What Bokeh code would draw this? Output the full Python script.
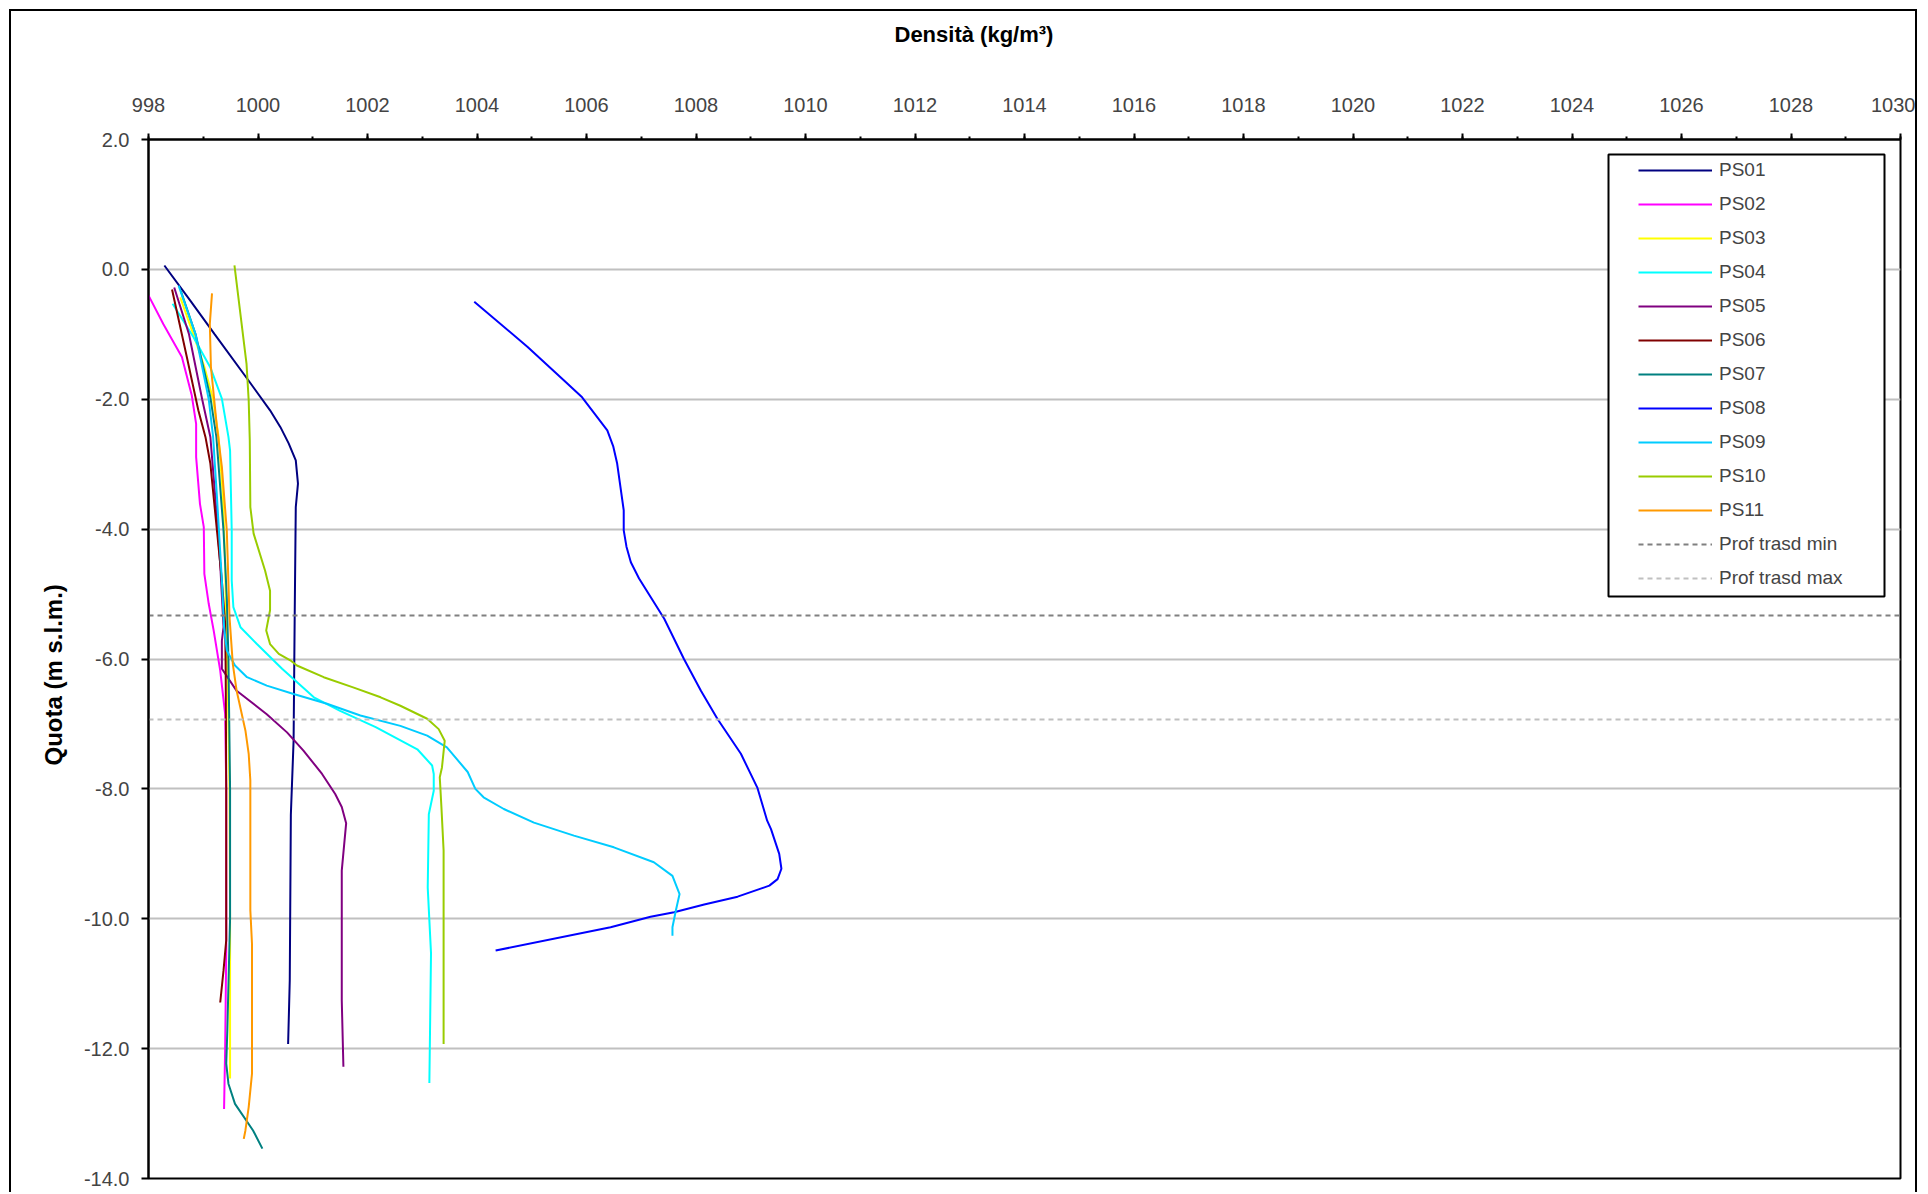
from bokeh.plotting import figure
from bokeh.models import (Range1d, FixedTicker, NumeralTickFormatter, Legend,
                          LegendItem, BoxAnnotation, Title)
from bokeh.embed import file_html
from bokeh.resources import INLINE

# ---------------- data ----------------
X_MIN, X_MAX = 998, 1030
Y_MIN, Y_MAX = -14, 2
X_TICKS = list(range(998, 1031, 2))
X_MINOR = list(range(998, 1031, 1))
Y_TICKS = list(range(-14, 3, 2))

series_names = ["PS01", "PS02", "PS03", "PS04", "PS05", "PS06",
                "PS07", "PS08", "PS09", "PS10", "PS11"]

PS01_depth = [0.06, -0.50, -1.00, -1.68, -2.17, -2.43, -2.68, -2.94, -3.30, -3.66,
              -5.36, -7.26, -8.40, -10.95, -11.93]
PS01_dens = [998.29, 998.78, 999.21, 999.80, 1000.22, 1000.41, 1000.56, 1000.69, 1000.73,
             1000.69, 1000.67, 1000.65, 1000.60, 1000.58, 1000.55]

PS02_depth = [-0.40, -0.84, -1.35, -1.94, -2.38, -2.89, -3.61, -3.97, -4.69, -5.15,
              -5.56, -6.18, -6.85, -8.00, -10.50, -12.00, -12.93]
PS02_dens = [998.00, 998.27, 998.61, 998.79, 998.87, 998.87, 998.94, 999.01, 999.02,
             999.10, 999.19, 999.31, 999.40, 999.42, 999.42, 999.40, 999.38]

PS03_depth = [-0.43, -1.00, -1.50, -2.00, -2.58, -3.50, -4.50, -5.50, -6.50, -8.00,
              -10.00, -12.46]
PS03_dens = [998.58, 998.82, 999.02, 999.18, 999.28, 999.36, 999.40, 999.42, 999.45,
             999.48, 999.49, 999.49]

PS04_depth = [-0.53, -1.04, -1.51, -1.99, -2.58, -2.79, -4.02, -4.79, -5.20, -5.51,
              -5.77, -6.15, -6.59, -6.80, -7.05, -7.39, -7.64, -7.77, -8.03, -8.39,
              -9.52, -10.53, -12.53]
PS04_dens = [998.44, 998.82, 999.13, 999.34, 999.46, 999.49, 999.52, 999.52, 999.55,
             999.68, 999.98, 1000.44, 1001.02, 1001.50, 1002.15, 1002.91, 1003.18,
             1003.21, 1003.21, 1003.12, 1003.10, 1003.16, 1003.13]

PS05_depth = [-0.28, -1.00, -2.00, -2.58, -3.51, -4.54, -5.51, -5.72, -6.15, -6.49,
              -6.85, -7.13, -7.41, -7.77, -8.08, -8.28, -8.53, -8.80, -9.26, -11.26,
              -12.28]
PS05_dens = [998.47, 998.74, 998.98, 999.13, 999.22, 999.31, 999.37, 999.34, 999.34,
             999.61, 1000.16, 1000.53, 1000.83, 1001.17, 1001.41, 1001.53, 1001.61,
             1001.58, 1001.53, 1001.53, 1001.56]

PS06_depth = [-0.31, -1.35, -2.17, -2.58, -2.99, -4.02, -4.79, -5.46, -6.18, -8.00,
              -10.33, -10.80, -11.29]
PS06_dens = [998.43, 998.70, 998.91, 999.04, 999.13, 999.25, 999.34, 999.40, 999.41,
             999.42, 999.42, 999.37, 999.31]

PS07_depth = [-0.33, -1.00, -1.97, -2.58, -4.02, -5.05, -6.00, -8.00, -10.00, -11.72,
              -12.23, -12.54, -12.85, -13.26, -13.54]
PS07_dens = [998.59, 998.86, 999.13, 999.24, 999.37, 999.43, 999.46, 999.49, 999.49,
             999.44, 999.42, 999.46, 999.58, 999.91, 1000.08]

PS08_depth = [-0.50, -1.19, -1.71, -1.97, -2.48, -2.73, -2.99, -3.71, -4.02, -4.27,
              -4.51, -4.76, -5.38, -6.00, -6.49, -6.92, -7.46, -7.98, -8.49, -8.62,
              -9.00, -9.23, -9.39, -9.49, -9.66, -9.78, -9.90, -9.97, -10.13, -10.49]
PS08_dens = [1003.95, 1004.92, 1005.59, 1005.92, 1006.38, 1006.49, 1006.56, 1006.68,
             1006.68, 1006.73, 1006.81, 1006.96, 1007.42, 1007.78, 1008.09, 1008.39,
             1008.82, 1009.12, 1009.30, 1009.37, 1009.52, 1009.56, 1009.49, 1009.34,
             1008.76, 1008.15, 1007.60, 1007.17, 1006.44, 1004.34]

PS09_depth = [-0.25, -1.00, -2.00, -2.58, -3.50, -4.79, -5.50, -5.87, -6.10, -6.28,
              -6.41, -6.54, -6.69, -6.87, -7.03, -7.18, -7.36, -7.74, -8.00, -8.13,
              -8.31, -8.52, -8.72, -8.90, -9.13, -9.34, -9.62, -9.88, -10.13, -10.26]
PS09_dens = [998.55, 998.86, 999.10, 999.18, 999.25, 999.34, 999.38, 999.43, 999.58,
             999.80, 1000.16, 1000.65, 1001.26, 1001.87, 1002.60, 1003.09, 1003.45,
             1003.83, 1003.97, 1004.12, 1004.49, 1005.04, 1005.77, 1006.50, 1007.23,
             1007.57, 1007.70, 1007.63, 1007.57, 1007.57]

PS10_depth = [0.06, -1.45, -2.02, -2.64, -3.66, -4.07, -4.64, -4.95, -5.25, -5.56,
              -5.77, -5.92, -6.02, -6.10, -6.28, -6.44, -6.59, -6.72, -6.92, -7.08,
              -7.26, -7.67, -7.82, -8.28, -8.95, -11.93]
PS10_dens = [999.57, 999.79, 999.83, 999.85, 999.86, 999.92, 1000.13, 1000.22, 1000.22,
             1000.15, 1000.22, 1000.38, 1000.59, 1000.71, 1001.20, 1001.75, 1002.24,
             1002.60, 1003.09, 1003.30, 1003.41, 1003.36, 1003.32, 1003.35, 1003.39,
             1003.39]

PS11_depth = [-0.37, -0.84, -1.50, -2.43, -3.04, -4.02, -5.36, -6.08, -6.49, -7.10,
              -7.46, -7.87, -9.87, -10.38, -12.39, -12.90, -13.26, -13.39]
PS11_dens = [999.16, 999.12, 999.14, 999.25, 999.34, 999.43, 999.48, 999.54, 999.61,
             999.77, 999.83, 999.86, 999.86, 999.89, 999.89, 999.83, 999.77, 999.74]

PROF_MIN = -5.33
PROF_MAX = -6.93

series_colors = ["#000080", "#FF00FF", "#FFFF00", "#00FFFF", "#800080", "#800000",
                 "#008080", "#0000FF", "#00CCFF", "#99CC00", "#FF9900"]

series_data = {
    "PS01": (PS01_dens, PS01_depth), "PS02": (PS02_dens, PS02_depth),
    "PS03": (PS03_dens, PS03_depth), "PS04": (PS04_dens, PS04_depth),
    "PS05": (PS05_dens, PS05_depth), "PS06": (PS06_dens, PS06_depth),
    "PS07": (PS07_dens, PS07_depth), "PS08": (PS08_dens, PS08_depth),
    "PS09": (PS09_dens, PS09_depth), "PS10": (PS10_dens, PS10_depth),
    "PS11": (PS11_dens, PS11_depth),
}

X_TITLE = "Densità (kg/m³)"
Y_TITLE = "Quota (m s.l.m.)"
FONT = "Liberation Sans"

# ---------------- figure ----------------
p = figure(width=1908, height=1183, output_backend="svg", toolbar_location=None,
           x_range=Range1d(X_MIN, X_MAX), y_range=Range1d(Y_MIN, Y_MAX),
           x_axis_location="above",
           min_border_left=137, min_border_right=19,
           min_border_top=128, min_border_bottom=16)
p.styles = {"margin-left": "9px", "margin-top": "9px",
            "border-top": "2px solid black", "border-left": "2px solid black",
            "border-right": "2px solid black"}

p.background_fill_color = "white"
p.border_fill_color = "white"
p.outline_line_color = "black"
p.outline_line_width = 2

# x axis (top)
xa = p.xaxis[0]
xa.ticker = FixedTicker(ticks=X_TICKS, minor_ticks=X_MINOR)
xa.formatter = NumeralTickFormatter(format="0")
xa.major_label_text_font = FONT
xa.major_label_text_font_size = "20px"
xa.major_label_standoff = 22
xa.axis_line_width = 2
xa.major_tick_line_width = 2
xa.minor_tick_line_width = 2
xa.major_tick_out = 6
xa.major_tick_in = 0
xa.minor_tick_out = 3
xa.minor_tick_in = 0

# y axis (left)
ya = p.yaxis[0]
ya.ticker = FixedTicker(ticks=Y_TICKS, minor_ticks=[])
ya.formatter = NumeralTickFormatter(format="0.0")
ya.major_label_text_font = FONT
ya.major_label_text_font_size = "20px"
ya.major_label_standoff = 12
ya.axis_line_width = 2
ya.major_tick_line_width = 2
ya.major_tick_out = 7
ya.major_tick_in = 0
ya.minor_tick_out = 0
ya.minor_tick_in = 0

# axis titles (positioned like the reference, off-centre); the x title gets an
# empty second line so that it sits higher above the tick labels
t_x = Title(text=X_TITLE + "\n ", align="left", offset=746, standoff=16,
            vertical_align="top", text_line_height=1.5,
            text_font=FONT, text_font_style="bold", text_font_size="22px",
            text_color="black")
p.add_layout(t_x, "above")
t_y = Title(text=Y_TITLE, align="left", offset=413, standoff=27,
            text_font=FONT, text_font_style="bold", text_font_size="24px",
            text_color="black")
p.add_layout(t_y, "left")

p.xgrid.visible = False
p.ygrid[0].ticker = FixedTicker(ticks=Y_TICKS)
p.ygrid.grid_line_color = "#C0C0C0"
p.ygrid.grid_line_width = 2

items = []
for name, color in zip(series_names, series_colors):
    dens, depth = series_data[name]
    r = p.line(dens, depth, line_color=color, line_width=2)
    items.append(LegendItem(label=name, renderers=[r]))

r_min = p.line([X_MIN, X_MAX], [PROF_MIN, PROF_MIN], line_color="#808080",
               line_width=2, line_dash="5 4")
items.append(LegendItem(label="Prof trasd min", renderers=[r_min]))
r_max = p.line([X_MIN, X_MAX], [PROF_MAX, PROF_MAX], line_color="#C0C0C0",
               line_width=2, line_dash="5 4")
items.append(LegendItem(label="Prof trasd max", renderers=[r_max]))

box = BoxAnnotation(left=1460, right=1736, bottom=582, top=1024,
                    left_units="screen", right_units="screen",
                    top_units="screen", bottom_units="screen",
                    fill_color="white", fill_alpha=1.0,
                    line_color="black", line_width=2, line_alpha=1.0)
p.add_layout(box)

legend = Legend(items=items, location=(1483, 582))
legend.border_line_alpha = 0
legend.background_fill_alpha = 0
legend.padding = 7
legend.margin = 0
legend.glyph_width = 74
legend.glyph_height = 20
legend.label_height = 20
legend.label_standoff = 7
legend.spacing = 12
legend.label_text_font = FONT
legend.label_text_font_size = "19px"
p.add_layout(legend)

open("out.html", "w").write(file_html(p, INLINE))
